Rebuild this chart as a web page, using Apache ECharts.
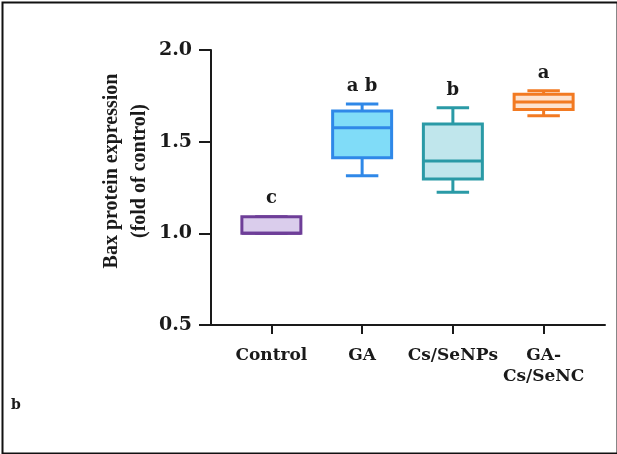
<!DOCTYPE html>
<html><head><meta charset="utf-8">
<script src="https://cdn.jsdelivr.net/npm/echarts/dist/echarts.min.js"></script>
<style>html,body{margin:0;padding:0;background:#fff}#c{width:617px;height:454px}</style>
</head>
<body><div id="c"></div>
<script>
const categories = ['Control', 'GA', 'Cs/SeNPs', 'GA-\nCs/SeNC'];
const mins    = [1.00, 1.314, 1.224, 1.642];
const q1s     = [1.00, 1.412, 1.296, 1.676];
const medians = [1.00, 1.576, 1.394, 1.716];
const q3s     = [1.09, 1.667, 1.596, 1.758];
const maxs    = [1.09, 1.705, 1.685, 1.778];
const sigLetters = ['c', 'a b', 'b', 'a'];
const letterY = [1.19, 1.80, 1.78, 1.875];
const yTickLabels = ['0.5', '1.0', '1.5', '2.0'];
const yAxisTitle = 'Bax protein expression\n(fold of control)';
const panelLabel = 'b';

const strokeColors = ['#6e3e98', '#2f88e8', '#2a9aa6', '#f27a22'];
const fillColors = ['#dacdec', '#80dcf8', '#c0e6ec', '#fde3d0'];
const ink = '#1a1a1a';
const serifWide = '"DejaVu Serif", serif';
const serif = '"Liberation Serif", "Times New Roman", serif';

const boxData = categories.map((c, i) => [i, mins[i], q1s[i], medians[i], q3s[i], maxs[i]]);
const letterData = categories.map((c, i) => [i, letterY[i], sigLetters[i]]);

const chart = echarts.init(document.getElementById('c'), null, {renderer: 'canvas'});
chart.setOption({
  backgroundColor: '#fff',
  animation: false,
  grid: [
    {left: 211, right: 12, top: 50, bottom: 129},
    {left: 226, width: 363, top: 50, bottom: 129}
  ],
  xAxis: [
    {gridIndex: 0, type: 'value', min: 0, max: 1,
     axisLine: {show: true, lineStyle: {color: ink, width: 2}},
     axisTick: {show: false}, axisLabel: {show: false}, splitLine: {show: false}},
    {gridIndex: 1, type: 'category', data: categories,
     axisLine: {show: false},
     axisTick: {show: true, alignWithLabel: true, interval: 0, length: 9, lineStyle: {color: ink, width: 2}},
     axisLabel: {interval: 0, margin: 20, color: ink, fontFamily: serifWide, fontWeight: 'bold', fontSize: 17, lineHeight: 21},
     splitLine: {show: false}}
  ],
  yAxis: [
    {gridIndex: 0, type: 'value', min: 0.5, max: 2.0, interval: 0.5,
     axisLine: {show: true, lineStyle: {color: ink, width: 2}},
     axisTick: {show: true, length: 12, lineStyle: {color: ink, width: 2}},
     axisLabel: {margin: 19, color: ink, fontFamily: serifWide, fontWeight: 'bold', fontSize: 19,
       formatter: v => yTickLabels[Math.round((v - 0.5) / 0.5)]},
     splitLine: {show: false}},
    {gridIndex: 1, type: 'value', min: 0.5, max: 2.0, interval: 0.5, show: false}
  ],
  series: [
    {
      type: 'custom', xAxisIndex: 1, yAxisIndex: 1,
      data: boxData,
      encode: {x: 0, y: [1, 2, 3, 4, 5]},
      renderItem: function (params, api) {
        const i = api.value(0);
        const x = api.coord([i, 0])[0];
        const band = api.size([1, 0])[0];
        const bw = band * 0.65;
        const cap = bw * 0.55;
        const yMin = api.coord([i, api.value(1)])[1];
        const yQ1 = api.coord([i, api.value(2)])[1];
        const yMed = api.coord([i, api.value(3)])[1];
        const yQ3 = api.coord([i, api.value(4)])[1];
        const yMax = api.coord([i, api.value(5)])[1];
        const sc = strokeColors[i], fc = fillColors[i];
        const ls = {stroke: sc, lineWidth: 3};
        return {type: 'group', children: [
          {type: 'line', shape: {x1: x, y1: yMax, x2: x, y2: yQ3}, style: ls},
          {type: 'line', shape: {x1: x, y1: yQ1, x2: x, y2: yMin}, style: ls},
          {type: 'line', shape: {x1: x - cap / 2, y1: yMax, x2: x + cap / 2, y2: yMax}, style: ls},
          {type: 'line', shape: {x1: x - cap / 2, y1: yMin, x2: x + cap / 2, y2: yMin}, style: ls},
          {type: 'rect', shape: {x: x - bw / 2, y: yQ3, width: bw, height: yQ1 - yQ3},
           style: {fill: fc, stroke: sc, lineWidth: 3}},
          {type: 'line', shape: {x1: x - bw / 2, y1: yMed, x2: x + bw / 2, y2: yMed}, style: ls}
        ]};
      }
    },
    {
      type: 'scatter', xAxisIndex: 1, yAxisIndex: 1,
      data: letterData, symbolSize: 0,
      itemStyle: {opacity: 1},
      label: {show: true, position: 'inside', formatter: p => p.value[2],
        color: ink, opacity: 1, fontFamily: serifWide, fontWeight: 'bold', fontSize: 18}
    }
  ],
  graphic: [
    {type: 'rect', left: 0, top: 0, shape: {x: 1, y: 1, width: 615, height: 451},
     style: {fill: 'none', stroke: '#111', lineWidth: 2}},
    {type: 'text', x: 126, y: 171, rotation: Math.PI / 2,
     style: {text: yAxisTitle, align: 'center', verticalAlign: 'middle', fill: ink,
       font: 'bold 20px ' + serif, lineHeight: 28}},
    {type: 'text', x: 11, y: 398,
     style: {text: panelLabel, fill: ink, font: 'bold 14px ' + serifWide}}
  ]
});
</script>
</body></html>
